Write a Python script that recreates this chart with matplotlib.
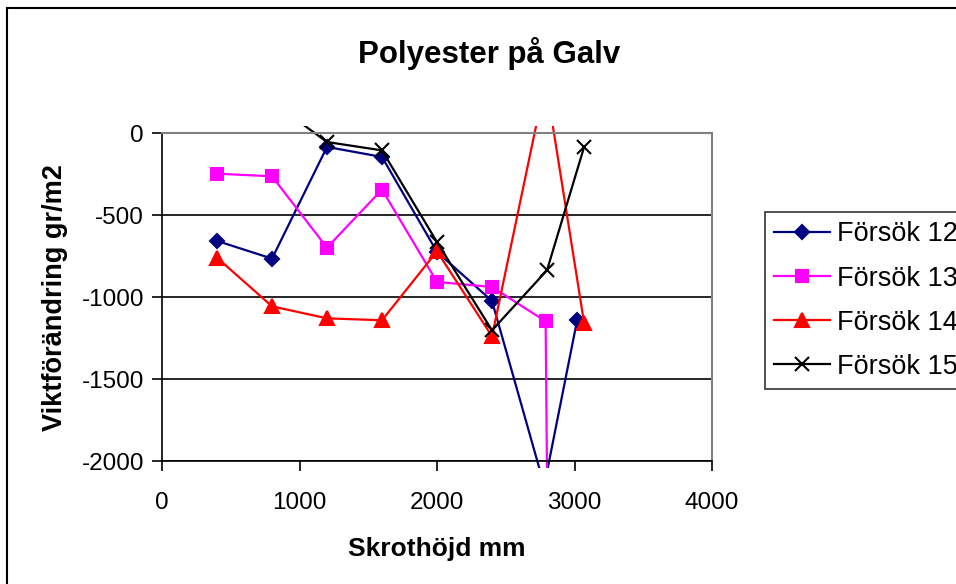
import matplotlib
matplotlib.use("Agg")
import matplotlib.pyplot as plt
from matplotlib.patches import Rectangle
from matplotlib.transforms import Bbox, TransformedBbox

# data
x12 = [400, 800, 1200, 1600, 2000, 2400, 2780, 3020]
y12 = [-658, -766, -85, -146, -725, -1024, -2150, -1138]

x13 = [400, 800, 1200, 1600, 2000, 2400, 2790, 2810]
y13 = [-248, -264, -699, -345, -908, -939, -1148, -3000]

x14 = [400, 800, 1200, 1600, 2000, 2400, 2790, 3070]
y14 = [-760, -1057, -1130, -1142, -721, -1240, 320, -1159]

x15 = [800, 1200, 1600, 2000, 2400, 2800, 3070]
y15 = [190, -55, -106, -665, -1203, -837, -85]

labels = ["Försök 12", "Försök 13", "Försök 14", "Försök 15"]
xticks = [0, 1000, 2000, 3000, 4000]
yticks = [0, -500, -1000, -1500, -2000]

plt.rcParams['font.family'] = ['Liberation Sans', 'DejaVu Sans']
plt.rcParams['axes.unicode_minus'] = False

W, H = 956, 584
fig = plt.figure(figsize=(W / 100, H / 100), dpi=100)

# chart area border (runs off right and bottom edge)
fig.patches.append(Rectangle((7 / W, -0.1), 1.2, 1 - 8 / H + 0.1,
                             transform=fig.transFigure, fill=False,
                             edgecolor='black', linewidth=1.5))

ax = fig.add_axes([162 / W, 1 - 461 / H, 550 / W, 328 / H])
ax.set_xlim(0, 4000)
ax.set_ylim(-2000, 0)
ax.set_xticks(xticks)
ax.set_yticks(yticks)
ax.tick_params(direction='out', length=7, width=1.2, labelsize=17.5, colors='black')
ax.tick_params(axis='x', pad=15)
ax.tick_params(axis='y', pad=6)
ax.yaxis.grid(True, color='black', linewidth=1.2)
ax.set_axisbelow(True)
for s in ['left', 'bottom']:
    ax.spines[s].set_color('black')
    ax.spines[s].set_linewidth(1.2)
for s in ['top', 'right']:
    ax.spines[s].set_color('#808080')
    ax.spines[s].set_linewidth(1.5)

# lines spill a few pixels past the plot area, like Excel
clip = TransformedBbox(Bbox.from_extents(-0.015, -0.02, 1.015, 1.021), ax.transAxes)

series = [
    (x12, y12, '#000080', 'D', 7.5, '#000080'),
    (x13, y13, '#FF00FF', 's', 8.5, '#FF00FF'),
    (x14, y14, '#FF0000', '^', 10.5, '#FF0000'),
    (x15, y15, 'black', 'x', 10, 'black'),
]
for (xs, ys, c, m, ms, fc), lab in zip(series, labels):
    ln, = ax.plot(xs, ys, color=c, marker=m, markersize=ms, markerfacecolor=fc,
                  markeredgecolor=c, markeredgewidth=1.5, linewidth=1.6, label=lab)
    ln.set_clip_box(clip)

fig.text(489 / W, 1 - 53 / H, "Polyester på Galv", ha='center', va='center',
         fontsize=22.5, fontweight='bold')
fig.text(437 / W, 1 - 549 / H, "Skrothöjd mm", ha='center', va='center',
         fontsize=19, fontweight='bold')
fig.text(55 / W, 1 - 298 / H, "Viktförändring gr/m2", ha='center', va='center',
         rotation=90, fontsize=19.5, fontweight='bold')

leg = ax.legend(loc='upper left', bbox_to_anchor=(765 / W, 1 - 212 / H),
                bbox_transform=fig.transFigure, frameon=True, fancybox=False,
                edgecolor='black', fontsize=19.5, handlelength=2.05,
                handletextpad=0.25, labelspacing=0.67, borderpad=0.35,
                borderaxespad=0)
leg.get_frame().set_linewidth(1.2)

fig.savefig("out.png", dpi=100)
